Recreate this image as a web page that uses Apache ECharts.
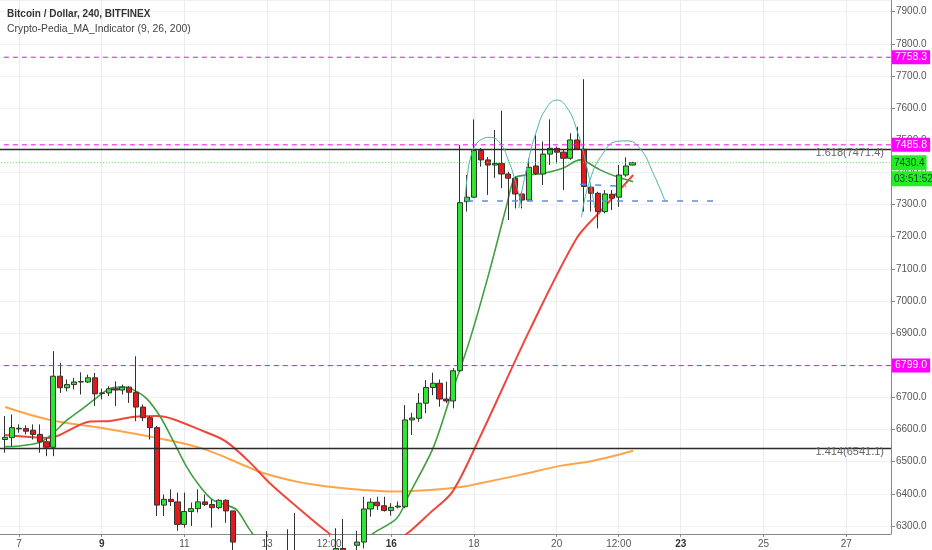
<!DOCTYPE html>
<html><head><meta charset="utf-8">
<script src="https://cdn.jsdelivr.net/npm/echarts@6/dist/echarts.min.js"></script>
<style>html,body{margin:0;padding:0;background:#fff}#c{width:932px;height:550px}</style>
</head><body><div id="c"></div>
<script>
// 4-hour slots from day 6 12:00 to day 28 00:00
const categories = [];
(function () { let d = 6, h = 12; for (let i = 0; i < 130; i++) { categories.push(String(d).padStart(2, '0') + ' ' + String(h).padStart(2, '0') + ':00'); h += 4; if (h >= 24) { h = 0; d++; } } })();

const tickCategories = ['07 00:00','09 00:00','11 00:00','13 00:00','14 12:00','16 00:00','18 00:00','20 00:00','21 12:00','23 00:00','25 00:00','27 00:00'];
const tickLabels = ['7','9','11','13','12:00','16','18','20','12:00','23','25','27'];
const boldTicks = ['9','16','23'];

// [open, close, low, high]
const ohlc = [
 '-',
 [6569,6576,6528,6642],[6575,6606,6548,6647],[6602,6604,6590,6616],[6603,6595,6585,6613],[6598,6585,6569,6616],
 [6585,6562,6528,6616],[6562,6545,6517,6575],[6545,6766,6517,6844],[6766,6730,6714,6808],[6730,6740,6719,6756],
 [6740,6748,6725,6761],[6748,6749,6709,6778],[6748,6761,6745,6771],[6761,6711,6673,6776],[6712,6714,6694,6727],
 [6714,6727,6704,6735],[6727,6723,6673,6750],[6723,6732,6709,6740],[6732,6716,6683,6735],[6716,6670,6626,6828],
 [6670,6637,6626,6678],[6637,6606,6569,6642],[6606,6365,6331,6611],[6365,6383,6331,6398],[6383,6376,6362,6414],
 [6375,6305,6285,6404],[6305,6345,6295,6404],[6345,6354,6300,6373],[6354,6375,6342,6414],[6375,6367,6362,6398],
 [6367,6357,6295,6383],[6357,6380,6352,6383],[6380,6347,6310,6383],[6347,6250,6220,6347],[6250,6200,6170,6262],
 [6200,6180,6150,6230],[6180,6150,6120,6210],[6150,6190,6140,6230],[6190,6160,6130,6284],[6160,6130,6100,6200],
 [6130,6100,6080,6160],[6100,6140,6090,6290],[6140,6180,6120,6340],[6180,6150,6130,6230],[6150,6120,6090,6190],
 [6120,6140,6100,6200],[6140,6170,6120,6220],[6170,6200,6150,6250],[6200,6230,6180,6293],[6230,6210,6190,6322],
 [6210,6240,6200,6260],[6240,6250,6220,6285],[6250,6353,6230,6391],[6353,6374,6329,6386],[6374,6363,6350,6391],
 [6363,6348,6345,6391],[6348,6358,6332,6371],[6359,6362,6355,6376],[6360,6630,6355,6676],[6630,6636,6583,6652],
 [6635,6682,6624,6713],[6682,6731,6651,6754],[6731,6744,6707,6777],[6744,6695,6671,6756],[6695,6689,6682,6749],
 [6689,6783,6666,6791],[6783,7306,6780,7485],[7309,7323,7278,7392],[7323,7468,7320,7565],[7468,7439,7418,7476],
 [7439,7423,7330,7448],[7423,7428,7383,7532],[7428,7395,7351,7592],[7395,7382,7252,7402],[7382,7333,7288,7387],
 [7333,7314,7288,7340],[7314,7416,7312,7444],[7420,7397,7392,7516],[7395,7457,7361,7496],[7457,7475,7423,7565],
 [7475,7463,7428,7480],[7463,7444,7345,7470],[7444,7501,7439,7522],[7501,7472,7470,7542],[7472,7356,7278,7690],
 [7354,7335,7278,7361],[7335,7278,7226,7340],[7278,7333,7273,7345],[7332,7320,7283,7345],[7323,7392,7293,7423],
 [7392,7420,7387,7447],[7423,7430.4,7422,7433]
];

// moving averages: [slot index, price]
const ma9 = [[1,6547],[3,6549],[6,6560],[7.5,6580],[10,6630],[12.3,6666],[14.8,6708],[16.2,6728],[18.1,6733],[20.1,6718],
 [21.5,6697],[23.5,6640],[25.3,6568],[27.3,6485],[29.3,6422],[31.1,6381],[33.1,6365],[34.6,6350],[36.5,6288],[39,6220],
 [42,6170],[45,6160],[48,6175],[51,6215],[54.4,6277],[57.8,6324],[59.7,6402],[63.1,6544],[65.5,6696],[68.4,6879],
 [71.3,7096],[73.7,7293],[74.9,7382],[76.6,7392],[78.5,7395],[81.9,7413],[84.4,7439],[85.3,7433],[87.3,7408],[89.7,7387],[92.1,7371]];
const ma26 = [[1,6583],[7.5,6574],[8.9,6583],[13.3,6625],[16.2,6627],[19.5,6639],[23,6642],[25.3,6633],[29.3,6599],[32.2,6573],
 [33.6,6554],[36.5,6498],[39.4,6433],[43.3,6360],[47.7,6282],[52,6220],[56,6230],[59.4,6278],[62.6,6340],[65.9,6407],
 [69.9,6578],[77.1,6910],[83.9,7195],[87.3,7278],[92.1,7392]];
const ma200 = [[1,6670],[7.5,6630],[15,6605],[22,6578],[29.3,6543],[36.5,6481],[38.4,6465],[43.3,6438],[48.1,6422],[52.9,6412],
 [57.8,6407],[62.6,6412],[67.4,6422],[69.9,6433],[75.7,6459],[81.5,6487],[86.3,6503],[92.1,6534]];

// hand-drawn arcs and neckline: [slot index, price]
const arc1 = [[67.70,7314],[68.06,7392],[68.50,7445],[69.15,7482],[70.12,7503],[71.33,7509],[72.78,7491],[73.98,7439],[74.95,7376],[75.93,7293]];
const arc2 = [[75.52,7289],[76.68,7416],[78.13,7532],[79.58,7602],[81.03,7625],[82.48,7602],[83.93,7532],[85.38,7416],[86.54,7289]];
const arc3 = [[84.61,7261],[85.82,7376],[87.76,7460],[89.69,7496],[91.14,7498],[93.07,7475],[95.01,7397],[96.70,7312]];
const neckline = [[68,7311],[104.7,7311]];
const handleLine = [[84.4,7363],[91.1,7356]];

const magentaLevels = [7758.3, 7485.8, 6799.0];
const fibLevels = [7471.4, 6541.1];
const fibNames = ['1.618(7471.4)', '1.414(6541.1)'];
const lastPrice = 7430.4;
const countdown = '03:51:52';

const FONT = 'Liberation Sans, Arial, sans-serif';
const X0 = -0.5, X1 = 129.5;
const chart = echarts.init(document.getElementById('c'), null, { renderer: 'canvas' });

function hLine(v, style) {
  return { type: 'line', xAxisIndex: 1, yAxisIndex: 0, data: [[X0, v], [X1, v]], symbol: 'none', silent: true, z: 5,
    lineStyle: style, emphasis: { disabled: true } };
}

const labelData = [];
magentaLevels.forEach(v => labelData.push({ yAxis: v,
  label: { show: true, position: 'end', distance: 1, formatter: v.toFixed(1), backgroundColor: '#ff00ff', color: '#fff',
           padding: [2, 3, 1, 3], fontSize: 10.5, fontFamily: FONT } }));
fibLevels.forEach((v, i) => labelData.push({ yAxis: v,
  label: { show: true, position: 'insideEndBottom', distance: [7, -2], formatter: fibNames[i], color: '#666', fontSize: 11, fontFamily: FONT } }));
labelData.push({ yAxis: lastPrice,
  label: { show: true, position: 'end', distance: 1, offset: [0, 8],
    formatter: '{a|' + lastPrice.toFixed(1) + '}\n{a|' + countdown + '}',
    rich: { a: { backgroundColor: '#22ee22', color: '#143', fontSize: 10, fontFamily: FONT, padding: [2, 2, 1, 2], lineHeight: 16, height: 12 } } } });

const series = [
  { type: 'line', xAxisIndex: 0, yAxisIndex: 0, data: [], z: 1, silent: true, color: '#e8ebf0',
    markLine: { silent: true, symbol: ['none', 'none'], z: 1, animation: false, label: { show: false },
      lineStyle: { color: '#e8ebf0', type: 'solid', width: 1 },
      data: tickCategories.map(c => ({ xAxis: c })) } },
  { type: 'line', name: 'MA200', xAxisIndex: 1, data: ma200, smooth: 0.4, symbol: 'none', z: 2, lineStyle: { color: '#ffa448', width: 2 } },
  { type: 'line', name: 'MA26', xAxisIndex: 1, data: ma26, smooth: 0.3, symbol: 'none', z: 2, lineStyle: { color: '#f0473c', width: 2 } },
  { type: 'line', name: 'MA9', xAxisIndex: 1, data: ma9, smooth: 0.3, symbol: 'none', z: 2, lineStyle: { color: '#3f9e3f', width: 1.6 } },
  { type: 'candlestick', xAxisIndex: 0, yAxisIndex: 0, data: ohlc, barWidth: 5.6, z: 3, clip: true,
    itemStyle: { color: '#2fe62f', color0: '#e41a1a', borderColor: '#333', borderColor0: '#333', borderWidth: 1 } }
];
magentaLevels.forEach(v => series.push(hLine(v, { color: '#ff00ff', type: [5, 4], width: 1 })));
fibLevels.forEach(v => series.push(hLine(v, { color: '#2a2a2a', type: 'solid', width: 1.5 })));
series.push(hLine(lastPrice, { color: '#4fdc4f', type: [1, 2], width: 1 }));
series.push({ type: 'line', xAxisIndex: 0, yAxisIndex: 0, data: [], z: 7, silent: true, color: 'rgba(0,0,0,0)',
  markLine: { silent: true, symbol: ['none', 'none'], z: 7, animation: false, lineStyle: { color: 'rgba(0,0,0,0)', width: 1 }, data: labelData } });
[arc1, arc2, arc3].forEach(a => series.push({ type: 'line', xAxisIndex: 1, data: a, smooth: 0.5, symbol: 'none', z: 6, lineStyle: { color: '#4db6a4', width: 1 } }));
series.push({ type: 'line', xAxisIndex: 1, data: neckline, symbol: 'none', z: 6, lineStyle: { color: '#5b8cec', width: 1.5, type: [6, 9] } });
series.push({ type: 'line', xAxisIndex: 1, data: handleLine, symbol: 'none', z: 6, lineStyle: { color: '#5b8cec', width: 1.5, type: [6, 9] } });

const option = {
  animation: false,
  backgroundColor: '#fff',
  graphic: [
    { type: 'text', left: 7, top: 9, z: 100, style: { text: 'Bitcoin / Dollar, 240, BITFINEX', font: 'bold 10px ' + FONT, fill: '#333' } },
    { type: 'text', left: 7, top: 24, z: 100, style: { text: 'Crypto-Pedia_MA_Indicator (9, 26, 200)', font: '10.4px ' + FONT, fill: '#444' } }
  ],
  grid: { left: -5.18, right: 41, top: 0, bottom: 16, containLabel: false, outerBoundsMode: 'none' },
  xAxis: [
    { type: 'category', data: categories, boundaryGap: true,
      axisLine: { onZero: false, lineStyle: { color: '#888', width: 1 } },
      axisTick: { show: true, alignWithLabel: true, length: 3, interval: (i, v) => tickCategories.includes(v), lineStyle: { color: '#888' } },
      axisLabel: { interval: (i, v) => tickCategories.includes(v), margin: 5, color: '#555', fontSize: 10, fontFamily: FONT, hideOverlap: false,
        formatter: v => { const t = tickLabels[tickCategories.indexOf(v)]; return boldTicks.includes(t) ? '{b|' + t + '}' : t; },
        rich: { b: { fontWeight: 'bold', color: '#333', fontSize: 10, fontFamily: FONT } } },
      splitLine: { show: false } },
    { type: 'value', min: X0, max: X1, show: false, axisLine: { onZero: false }, splitLine: { show: false } }
  ],
  yAxis: [{
    type: 'value', position: 'right', min: 6275.1, max: 7936.4, splitNumber: 16, scale: true,
    axisLine: { show: true, onZero: false, lineStyle: { color: '#888' } },
    axisTick: { show: true, length: 4, lineStyle: { color: '#888' } },
    axisLabel: { margin: 5, color: '#555', fontSize: 10, fontFamily: FONT, showMinLabel: false, showMaxLabel: false, formatter: v => v.toFixed(1) },
    splitLine: { show: true, lineStyle: { color: '#eef0f4', width: 1 } }
  }],
  series: series
};
chart.setOption(option);
</script></body></html>
